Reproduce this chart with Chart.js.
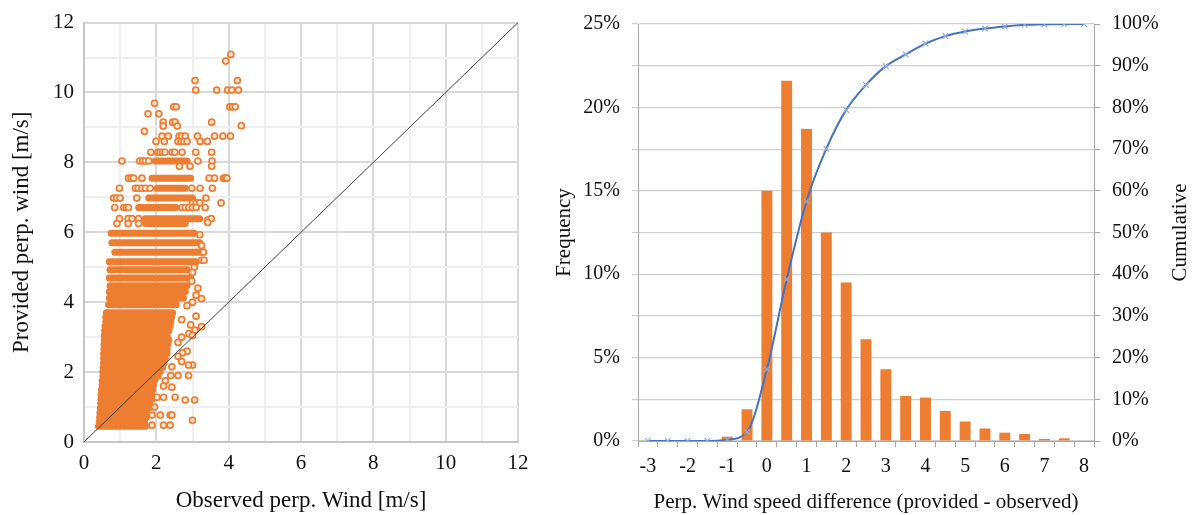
<!DOCTYPE html>
<html><head><meta charset="utf-8">
<script src="https://cdn.jsdelivr.net/npm/chart.js@4.4.1/dist/chart.umd.min.js"></script>
<style>
html,body{margin:0;padding:0;background:#fff;}
#wrap{position:relative;width:1196px;height:515px;overflow:hidden;background:#fff;}
#c1wrap{position:absolute;left:0;top:0;width:545px;height:515px;}
#c2wrap{position:absolute;left:540px;top:0;width:656px;height:515px;}
</style></head><body>
<div id="wrap"><div id="c1wrap"><canvas id="c1" width="545" height="515"></canvas></div><div id="c2wrap"><canvas id="c2" width="656" height="515"></canvas></div></div>
<script>
// ---- Left panel: scatter (observed vs provided perpendicular wind) ----
// dense horizontal rows of overlapping points: provided level, observed range
const rowLevels = [0.45,0.58,0.71,0.84,0.97,1.10,1.23,1.36,1.49,1.62,1.75,1.88,2.01,2.14,2.27,2.40,2.53,2.66,2.79,2.92,3.05,3.18,3.31,3.44,3.57,3.70,3.93,4.12,4.30,4.47,4.69,4.93,5.16,5.43,5.70,5.97,6.25,6.39,6.71,6.98,7.26,7.55,8.04];
const rowStart  = [0.40,0.42,0.43,0.44,0.45,0.46,0.47,0.47,0.48,0.50,0.50,0.52,0.52,0.53,0.54,0.54,0.54,0.55,0.55,0.56,0.56,0.57,0.58,0.60,0.60,0.62,0.68,0.70,0.70,0.72,0.70,0.72,0.70,0.85,0.77,0.75,1.70,1.69,1.51,1.79,2.02,1.88,1.97];
const rowEnd    = [1.70,1.68,1.72,1.72,1.78,1.82,1.88,1.86,1.90,1.92,1.95,2.05,2.10,2.18,2.22,2.25,2.30,2.30,2.32,2.35,2.30,2.35,2.38,2.40,2.42,2.45,2.55,2.75,2.80,2.85,2.95,2.85,3.10,3.20,3.20,3.05,2.80,3.20,2.55,3.00,2.80,2.95,2.85];
// isolated points
const pointObs  = [4.06,3.92,3.07,4.24,3.09,3.67,3.97,4.09,4.27,
  1.95,2.48,2.55,4.03,4.10,4.18,1.77,2.07,
  2.19,2.45,2.52,3.53,2.19,2.58,4.35,1.67,
  2.16,2.33,2.63,2.70,2.80,3.14,3.61,3.84,4.05,
  1.99,2.22,2.60,2.68,2.76,2.85,3.21,3.41,
  1.85,2.04,2.10,2.17,2.24,2.44,2.51,2.71,3.09,3.53,
  1.05,1.54,1.62,1.70,1.79,3.15,3.54,
  2.64,2.93,3.53,
  1.23,1.30,1.37,1.60,3.46,3.61,3.86,3.90,3.95,
  0.98,1.42,1.50,1.60,1.70,1.83,2.98,3.21,3.55,
  0.82,0.90,1.00,1.46,3.37,
  3.00,3.10,3.20,3.79,
  0.85,1.10,1.17,1.23,2.71,2.80,2.90,3.00,3.10,3.35,
  0.98,1.22,1.33,1.51,3.42,3.52,
  0.91,1.22,1.51,3.42,
  3.20,3.25,3.30,3.25,3.32,3.05,3.00,2.98,3.15,3.10,3.25,3.00,2.85,3.10,2.70,2.95,3.25,3.07,2.90,3.00,2.70,2.60,2.85,2.72,2.60,2.70,3.00,2.43,2.89,2.60,2.89,2.40,2.25,2.43,2.20,2.02,2.20,2.52,2.80,3.06,1.95,1.88,2.11,2.38,2.43,3.00,1.88,2.20,2.38];
const pointProv = [11.09,10.90,10.34,10.34,10.07,10.07,10.07,10.07,10.07,
  9.69,9.59,9.59,9.59,9.59,9.59,9.39,9.39,
  9.15,9.15,9.15,9.15,9.04,9.04,9.05,8.89,
  8.75,8.75,8.75,8.75,8.75,8.75,8.75,8.75,8.75,
  8.60,8.60,8.60,8.60,8.60,8.60,8.60,8.60,
  8.29,8.29,8.29,8.29,8.29,8.29,8.29,8.29,8.29,8.29,
  8.04,8.04,8.04,8.04,8.04,8.04,8.04,
  7.89,7.89,7.89,
  7.55,7.55,7.55,7.55,7.55,7.55,7.55,7.55,7.55,
  7.26,7.26,7.26,7.26,7.26,7.26,7.26,7.26,7.26,
  6.98,6.98,6.98,6.98,6.98,
  6.84,6.84,6.84,6.84,
  6.71,6.71,6.71,6.71,6.71,6.71,6.71,6.71,6.71,6.71,
  6.39,6.39,6.39,6.39,6.35,6.39,
  6.25,6.25,6.25,6.28,
  5.93,5.62,5.43,5.20,5.20,5.00,4.85,4.60,4.40,4.20,4.10,4.00,3.90,3.60,3.50,3.35,3.30,3.20,3.10,3.05,3.00,2.85,2.60,2.55,2.45,2.30,2.20,2.15,2.20,1.90,1.90,1.90,1.75,1.57,1.60,1.28,1.28,1.28,1.20,1.20,1.00,0.77,0.77,0.77,0.77,0.62,0.48,0.48,0.48];
const identityLine = [0, 12];
const scatterTicks = [0, 2, 4, 6, 8, 10, 12];

// ---- Right panel: histogram of difference + cumulative ----
const diffBins   = [-3,-2.5,-2,-1.5,-1,-0.5,0,0.5,1,1.5,2,2.5,3,3.5,4,4.5,5,5.5,6,6.5,7,7.5,8];
const frequency  = [0,0,0,0,0.26,1.9,15.0,21.6,18.7,12.5,9.5,6.1,4.3,2.7,2.6,1.8,1.17,0.75,0.5,0.42,0.12,0.16,0];
const cumulative = [0,0,0,0,0.3,2.2,17.2,38.8,57.5,70.1,79.4,85.4,89.9,92.7,95.3,97.1,98.2,98.9,99.4,99.8,99.9,100,100];

const FONT = '"Liberation Serif", "Times New Roman", serif';
const TXT = '#111111';
Chart.defaults.font.family = FONT;
Chart.defaults.color = TXT;

// Left chart
const rowData = rowLevels.flatMap((y, i) => [{x: rowStart[i], y: y}, {x: rowEnd[i], y: y}, {x: rowEnd[i], y: null}]);
const ptData = pointObs.map((x, i) => ({x: x, y: pointProv[i]}));
const diagData = identityLine.map(v => ({x: v, y: v}));

new Chart(document.getElementById('c1'), {
  type: 'scatter',
  data: { datasets: [
    { data: diagData, showLine: true, borderColor: '#404040', borderWidth: 1, pointRadius: 0, order: 0 },
    { data: ptData, pointRadius: 3, pointBorderWidth: 1.7, pointBorderColor: '#ED7D31', pointBackgroundColor: '#fde9dc', order: 1 },
    { data: rowData, showLine: true, spanGaps: false, borderColor: '#ED7D31', borderWidth: 7, borderCapStyle: 'round', pointRadius: 0, order: 2 }
  ]},
  options: {
    responsive: false, animation: false, events: [],
    layout: { padding: { top: 18, right: 27, left: 0, bottom: 0 } },
    plugins: { legend: { display: false }, tooltip: { enabled: false } },
    scales: {
      x: {
        type: 'linear', min: 0, max: 12,
        afterFit: s => { s.height = 73; },
        ticks: { stepSize: 1, autoSkip: false, maxRotation: 0, padding: 9, font: { size: 21 },
          callback: v => scatterTicks.includes(v) ? String(v) : '' },
        grid: { drawTicks: false, lineWidth: 2, color: c => (c.tick && c.tick.value % 2 === 0) ? '#d9d9d9' : '#efefef' },
        border: { color: '#c6c6c6', width: 2 },
        title: { display: true, text: 'Observed perp. Wind [m/s]', font: { size: 23 }, padding: { top: 0, bottom: 0 } }
      },
      y: {
        type: 'linear', min: 0, max: 12,
        afterFit: s => { s.width = 84; },
        ticks: { stepSize: 1, autoSkip: false, padding: 10, font: { size: 21 },
          callback: v => scatterTicks.includes(v) ? String(v) : '' },
        grid: { drawTicks: false, lineWidth: 2, color: c => (c.tick && c.tick.value % 2 === 0) ? '#d9d9d9' : '#efefef' },
        border: { color: '#c6c6c6', width: 2 },
        title: { display: true, text: 'Provided perp. wind [m/s]', font: { size: 23 }, padding: { top: 8, bottom: 0 } }
      }
    }
  }
});

// Right chart
const cumTitle = {
  id: 'cumTitle',
  afterDraw(chart) {
    const ctx = chart.ctx, a = chart.chartArea;
    ctx.save();
    ctx.translate(640, (a.top + a.bottom) / 2);
    ctx.rotate(-Math.PI / 2);
    ctx.textAlign = 'center'; ctx.textBaseline = 'middle';
    ctx.font = '21px ' + FONT; ctx.fillStyle = TXT;
    ctx.fillText('Cumulative', 0, 0);
    ctx.restore();
  }
};

new Chart(document.getElementById('c2'), {
  type: 'bar',
  data: {
    labels: diffBins.map(String),
    datasets: [
      { type: 'line', label: 'Cumulative', data: cumulative, yAxisID: 'y2', borderColor: '#4472C4', borderWidth: 2,
        pointStyle: 'crossRot', pointRadius: 4, pointBorderColor: '#8FAADC', pointBorderWidth: 1.2,
        pointBackgroundColor: 'rgba(0,0,0,0)', cubicInterpolationMode: 'monotone', order: 1 },
      { type: 'bar', label: 'Frequency', data: frequency, yAxisID: 'y', backgroundColor: '#ED7D31',
        barPercentage: 0.55, categoryPercentage: 1, order: 2 }
    ]
  },
  options: {
    responsive: false, animation: false, events: [],
    layout: { padding: { top: 21, right: 0, left: 0, bottom: 0 } },
    plugins: { legend: { display: false }, tooltip: { enabled: false } },
    scales: {
      x: {
        type: 'category', offset: true,
        afterFit: s => { s.height = 74; },
        ticks: { autoSkip: false, maxRotation: 0, minRotation: 0, padding: 8, font: { size: 20 },
          callback: (v, i) => Number.isInteger(diffBins[i]) ? String(diffBins[i]) : '' },
        grid: { offset: true, drawOnChartArea: false, drawTicks: true, tickLength: 6, color: '#a6a6a6' },
        border: { color: '#a6a6a6', width: 1 },
        title: { display: true, text: 'Perp. Wind speed difference (provided - observed)', font: { size: 21 }, padding: { top: 0, bottom: 0 } }
      },
      y: {
        position: 'left', min: 0, max: 25,
        afterFit: s => { s.width = 98; },
        ticks: { stepSize: 2.5, autoSkip: false, padding: 12, font: { size: 20 },
          callback: v => (Math.abs(v % 5) < 1e-9) ? v + '%' : '' },
        grid: { color: '#cfcfcf', lineWidth: 1.2, drawTicks: true, tickLength: 6 },
        border: { color: '#a6a6a6', width: 1 },
        title: { display: true, text: 'Frequency', font: { size: 21 }, padding: { top: 12, bottom: 0 } }
      },
      y2: {
        position: 'right', min: 0, max: 100,
        afterFit: s => { s.width = 102; },
        ticks: { stepSize: 10, autoSkip: false, padding: 12, font: { size: 20 }, callback: v => v + '%' },
        grid: { drawOnChartArea: false, drawTicks: true, tickLength: 6, color: '#a6a6a6' },
        border: { color: '#a6a6a6', width: 1 }
      }
    }
  },
  plugins: [cumTitle]
});
</script>
</body></html>
